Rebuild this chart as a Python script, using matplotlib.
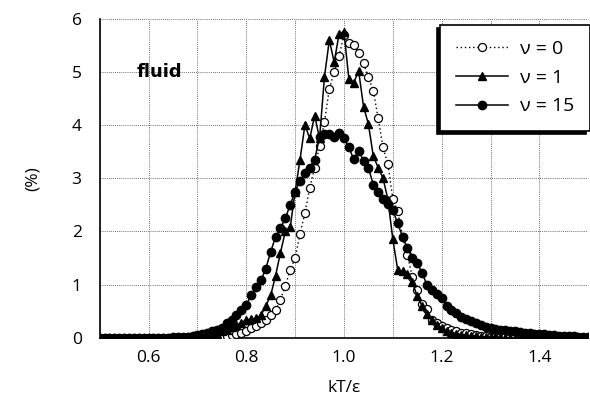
import matplotlib
matplotlib.use('Agg')
import matplotlib.pyplot as plt
from matplotlib.ticker import MultipleLocator

# kT/eps sampling and the three distributions (%)
kT = [0.50, 0.51, 0.52, 0.53, 0.54, 0.55, 0.56, 0.57, 0.58, 0.59,
      0.60, 0.61, 0.62, 0.63, 0.64, 0.65, 0.66, 0.67, 0.68, 0.69,
      0.70, 0.71, 0.72, 0.73, 0.74, 0.75, 0.76, 0.77, 0.78, 0.79,
      0.80, 0.81, 0.82, 0.83, 0.84, 0.85, 0.86, 0.87, 0.88, 0.89,
      0.90, 0.91, 0.92, 0.93, 0.94, 0.95, 0.96, 0.97, 0.98, 0.99,
      1.00, 1.01, 1.02, 1.03, 1.04, 1.05, 1.06, 1.07, 1.08, 1.09,
      1.10, 1.11, 1.12, 1.13, 1.14, 1.15, 1.16, 1.17, 1.18, 1.19,
      1.20, 1.21, 1.22, 1.23, 1.24, 1.25, 1.26, 1.27, 1.28, 1.29,
      1.30, 1.31, 1.32, 1.33, 1.34, 1.35, 1.36, 1.37, 1.38, 1.39,
      1.40, 1.41, 1.42, 1.43, 1.44, 1.45, 1.46, 1.47, 1.48, 1.49, 1.50]

nu0 = [0, 0, 0, 0, 0, 0, 0, 0, 0, 0,
       0, 0, 0, 0, 0, 0, 0, 0, 0.01, 0.01,
       0.01, 0.01, 0.01, 0.02, 0.02, 0.03, 0.04, 0.05, 0.07, 0.09,
       0.13, 0.18, 0.22, 0.27, 0.33, 0.42, 0.52, 0.72, 0.98, 1.28,
       1.50, 1.95, 2.35, 2.82, 3.20, 3.60, 4.06, 4.68, 5.00, 5.30,
       5.70, 5.55, 5.50, 5.36, 5.17, 4.90, 4.65, 4.13, 3.58, 3.26,
       2.62, 2.38, 1.90, 1.55, 1.15, 0.90, 0.64, 0.54, 0.34, 0.28,
       0.23, 0.18, 0.14, 0.12, 0.10, 0.09, 0.07, 0.05, 0.04, 0.03,
       0.02, 0.02, 0.01, 0.01, 0.01, 0.01, 0, 0, 0, 0,
       0, 0, 0, 0, 0, 0, 0, 0, 0, 0, 0]

nu1 = [0, 0, 0, 0, 0, 0, 0, 0, 0, 0,
       0, 0, 0, 0, 0, 0, 0, 0.01, 0.01, 0.01,
       0.01, 0.02, 0.03, 0.05, 0.08, 0.12, 0.15, 0.20, 0.24, 0.28,
       0.34, 0.35, 0.37, 0.42, 0.60, 0.80, 1.17, 1.60, 2.00, 2.08,
       2.75, 3.35, 4.00, 3.75, 4.18, 3.75, 4.90, 5.60, 5.18, 5.72,
       5.75, 4.87, 4.80, 5.02, 4.35, 4.02, 3.42, 3.20, 3.00, 2.60,
       1.85, 1.28, 1.25, 1.20, 1.05, 0.78, 0.60, 0.45, 0.34, 0.25,
       0.18, 0.13, 0.10, 0.08, 0.06, 0.05, 0.04, 0.03, 0.02, 0.02,
       0.01, 0.01, 0.01, 0, 0, 0, 0, 0, 0, 0,
       0, 0, 0, 0, 0, 0, 0, 0, 0, 0, 0]

nu15 = [0, 0, 0, 0, 0, 0, 0, 0, 0, 0,
        0, 0, 0, 0, 0, 0.01, 0.01, 0.02, 0.02, 0.03,
        0.05, 0.07, 0.09, 0.12, 0.15, 0.19, 0.27, 0.33, 0.42, 0.53,
        0.62, 0.80, 0.95, 1.08, 1.30, 1.62, 1.90, 2.06, 2.25, 2.50,
        2.75, 2.95, 3.10, 3.20, 3.35, 3.77, 3.83, 3.83, 3.77, 3.86,
        3.75, 3.58, 3.36, 3.52, 3.33, 3.20, 2.88, 2.74, 2.62, 2.52,
        2.40, 2.15, 1.90, 1.68, 1.50, 1.41, 1.22, 0.99, 0.90, 0.83,
        0.74, 0.60, 0.53, 0.47, 0.40, 0.35, 0.31, 0.28, 0.25, 0.21,
        0.18, 0.16, 0.15, 0.14, 0.13, 0.12, 0.11, 0.10, 0.09, 0.08,
        0.07, 0.07, 0.06, 0.05, 0.04, 0.04, 0.03, 0.03, 0.02, 0.02, 0.02]

xticks = [0.6, 0.8, 1.0, 1.2, 1.4]
yticks = [0, 1, 2, 3, 4, 5, 6]


def main():
    plt.rcParams['font.family'] = ['Open Sans', 'DejaVu Sans']
    fig = plt.figure(figsize=(5.9, 4.08), dpi=100)
    ax = fig.add_axes([0.169, 0.172, 0.828, 0.782])

    l0, = ax.plot(kT, nu0, linestyle=(0, (1, 2)), color='k', lw=1.0,
                  marker='o', ms=5.8, mfc='white', mec='k', mew=0.9,
                  label='ν = 0', zorder=3)
    l1, = ax.plot(kT, nu1, '-', color='k', lw=1.1, marker='^', ms=6.2,
                  mfc='k', mec='k', label='ν = 1', zorder=4)
    l15, = ax.plot(kT, nu15, '-', color='k', lw=1.1, marker='o', ms=6,
                   mfc='k', mec='k', label='ν = 15', zorder=5)

    ax.set_xlim(0.5, 1.5)
    ax.set_ylim(0, 6)
    ax.set_xticks(xticks)
    ax.set_yticks(yticks)
    ax.xaxis.set_minor_locator(MultipleLocator(0.1))
    ax.grid(which='both', linestyle=(0, (1, 1.5)), color='0.25', lw=0.6)
    ax.tick_params(which='both', length=0, labelsize=12.5)
    ax.tick_params(axis='x', pad=9)
    ax.tick_params(axis='y', pad=13)
    for s in ['top', 'right']:
        ax.spines[s].set_visible(False)
    for s in ['left', 'bottom']:
        ax.spines[s].set_linewidth(1.2)

    ax.set_xlabel('kT/ε', fontsize=12.5, labelpad=10)
    ax.set_ylabel('(%)', fontsize=12.5, labelpad=22)
    ax.text(0.575, 5.0, 'fluid', fontsize=13, fontweight='bold',
            family='DejaVu Sans', va='center', ha='left')

    opts = dict(handles=[l0, l1, l15], loc='upper right',
                bbox_to_anchor=(1.003, 0.982), borderaxespad=0,
                fontsize=14, handlelength=2.7, numpoints=1, fancybox=False,
                framealpha=1, edgecolor='k', borderpad=0.8,
                labelspacing=0.55, handletextpad=0.6)
    try:
        leg = ax.legend(shadow={'ox': -2.5, 'oy': -2.5, 'color': 'k',
                                'alpha': 1}, **opts)
    except Exception:
        leg = ax.legend(shadow=True, **opts)
    leg.get_frame().set_linewidth(1.2)
    leg.set_zorder(10)

    fig.savefig('out.png', dpi=100)


if __name__ == '__main__':
    main()
